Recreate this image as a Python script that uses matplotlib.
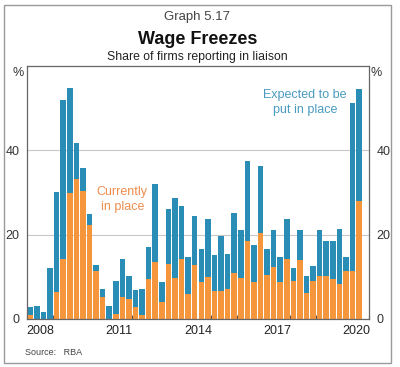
import matplotlib
matplotlib.use("Agg")
import matplotlib.pyplot as plt
import numpy as np

# Quarterly shares of firms (%), 2008Q1 onwards
currently = [1.0, 0.0, 0.0, 0.0, 6.5, 14.3, 29.9, 33.2, 30.3, 22.4,
             11.4, 5.2, 0.0, 1.3, 5.2, 4.8, 2.9, 0.9, 9.5, 13.5,
             4.0, 13.1, 9.7, 14.3, 5.9, 12.9, 8.7, 9.9, 6.7, 6.7,
             7.1, 11.0, 9.8, 18.4, 8.7, 20.4, 10.5, 12.3, 8.7, 14.3,
             9.1, 14.0, 6.1, 9.1, 10.1, 10.3, 9.5, 8.3, 11.5, 11.5,
             28.1]
expected = [1.9, 3.1, 1.7, 12.0, 23.7, 37.7, 24.9, 8.5, 5.5, 2.5,
            1.4, 1.9, 3.1, 7.6, 9.0, 5.4, 3.9, 6.2, 7.5, 18.5,
            4.7, 13.1, 19.0, 12.4, 8.9, 11.5, 7.9, 13.7, 8.5, 13.1,
            8.4, 14.2, 11.3, 19.1, 8.8, 15.9, 6.1, 8.7, 5.9, 9.3,
            2.9, 7.0, 4.2, 3.5, 11.1, 8.1, 8.9, 13.0, 3.2, 39.8,
            26.4]
years = list(range(2008, 2021))
year_labels = ["2008", "2011", "2014", "2017", "2020"]
yticks = [0, 20, 40]

orange = "#F6963C"
blue = "#2A8DB5"
plt.rcParams["font.family"] = ["Liberation Sans", "DejaVu Sans"]

fig = plt.figure(figsize=(4.0, 3.67), dpi=100)
ax = fig.add_axes([0.0675, 0.1308, 0.855, 0.6894])

x = 2008 + 0.125 + 0.25 * np.arange(len(currently))
cur = np.array(currently)
exp_ = np.array(expected)
ax.bar(x, cur, width=0.21, color=orange, zorder=2)
ax.bar(x, exp_, width=0.21, bottom=cur, color=blue, zorder=2)

ax.set_xlim(2008, 2021)
ax.set_ylim(0, 60)
ax.set_yticks(yticks)
ax.yaxis.grid(True, color="#c8c8c8", linewidth=0.8, zorder=0)
ax.tick_params(axis="y", labelleft=True, labelright=True, left=False,
               right=False, labelsize=9, colors="#333333", pad=2)

ax.set_xticks(years + [2021])
ax.set_xticklabels([])
ax.tick_params(axis="x", which="major", direction="in", length=3,
               color="#555555")
ax.set_xticks([int(y) + 0.5 for y in year_labels], minor=True)
ax.set_xticklabels(year_labels, minor=True)
ax.tick_params(axis="x", which="minor", length=0, labelsize=9,
               colors="#222222", pad=4)
for s in ax.spines.values():
    s.set_color("#666666")
    s.set_linewidth(0.9)

ax.text(2011.62, 28.3, "Currently\nin place", color="#EE8C4C", fontsize=9,
        ha="center", va="center", linespacing=1.35, zorder=5)
ax.text(2018.57, 51.4, "Expected to be\nput in place", color="#4A9BC0",
        fontsize=9, ha="center", va="center", linespacing=1.35, zorder=5)

fig.text(0.493, 0.953, "Graph 5.17", ha="center", va="center",
         fontsize=9.5, color="#444444")
fig.text(0.493, 0.893, "Wage Freezes", ha="center", va="center",
         fontsize=13, fontweight="bold", color="#111111")
fig.text(0.493, 0.845, "Share of firms reporting in liaison", ha="center",
         va="center", fontsize=8.8, color="#222222")
fig.text(0.045, 0.80, "%", ha="center", va="center", fontsize=9,
         color="#333333")
fig.text(0.94, 0.80, "%", ha="center", va="center", fontsize=9,
         color="#333333")
fig.text(0.063, 0.04, "Source:   RBA", ha="left", va="center", fontsize=6.5,
         color="#444444")

fig.patches.append(plt.Rectangle((0.01, 0.011), 0.968, 0.975,
                                 transform=fig.transFigure, fill=False,
                                 edgecolor="#999999", linewidth=1.0))

fig.savefig("out.png", dpi=100)
